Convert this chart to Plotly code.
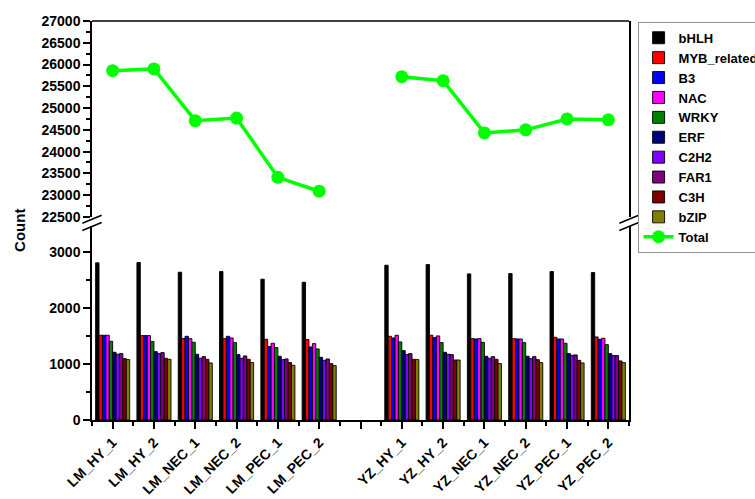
import plotly.graph_objects as go

# Samples on the x axis (slot 6 is left empty to separate the two sites)
samples = ["LM_HY_1", "LM_HY_2", "LM_NEC_1", "LM_NEC_2", "LM_PEC_1", "LM_PEC_2",
           "", "YZ_HY_1", "YZ_HY_2", "YZ_NEC_1", "YZ_NEC_2", "YZ_PEC_1", "YZ_PEC_2"]
sample_pos = [0, 1, 2, 3, 4, 5, 7, 8, 9, 10, 11, 12]

families = ["bHLH", "MYB_related", "B3", "NAC", "WRKY", "ERF", "C2H2", "FAR1", "C3H", "bZIP"]
family_colors = ["#000000", "#FF0000", "#0000FF", "#FF00FF", "#008000",
                 "#000080", "#8000FF", "#800080", "#800000", "#808000"]

# Counts per family, one value per sample (LM_HY_1 ... YZ_PEC_2)
bHLH        = [2804, 2810, 2637, 2649, 2512, 2458, 2762, 2774, 2607, 2613, 2649, 2631]
MYB_related = [1512, 1506, 1452, 1452, 1440, 1435, 1494, 1512, 1452, 1452, 1476, 1482]
B3          = [1512, 1506, 1494, 1494, 1310, 1304, 1464, 1470, 1446, 1446, 1446, 1440]
NAC         = [1512, 1506, 1452, 1464, 1369, 1363, 1512, 1500, 1452, 1446, 1446, 1458]
WRKY        = [1405, 1399, 1387, 1381, 1292, 1268, 1393, 1381, 1387, 1381, 1369, 1345]
ERF         = [1208, 1220, 1173, 1167, 1137, 1119, 1238, 1208, 1137, 1137, 1185, 1185]
C2H2        = [1173, 1185, 1101, 1101, 1077, 1065, 1167, 1173, 1101, 1095, 1155, 1149]
FAR1        = [1185, 1202, 1131, 1143, 1089, 1089, 1185, 1167, 1131, 1131, 1161, 1149]
C3H         = [1096, 1101, 1083, 1083, 1024, 1006, 1083, 1071, 1083, 1077, 1065, 1054]
bZIP        = [1078, 1083, 1018, 1024,  976,  970, 1078, 1071, 1006, 1024, 1018, 1024]

# Total number of TFs per sample
total = [25860, 25900, 24710, 24770, 23410, 23090,
         25720, 25630, 24430, 24500, 24750, 24730]

family_values = [bHLH, MYB_related, B3, NAC, WRKY, ERF, C2H2, FAR1, C3H, bZIP]

FONT = "Liberation Sans, Arial, sans-serif"

fig = go.Figure()

for name, color, vals in zip(families, family_colors, family_values):
    fig.add_trace(go.Bar(
        x=sample_pos, y=vals, name=name,
        marker=dict(color=color, line=dict(color="#000000", width=0.9)),
        xaxis="x", yaxis="y",
    ))

# Total line lives on the upper (broken) axis; gap between the two sites
tx = sample_pos[:6] + [None] + sample_pos[6:]
ty = total[:6] + [None] + total[6:]
fig.add_trace(go.Scatter(
    x=tx, y=ty, name="Total", mode="lines+markers",
    line=dict(color="#00FF00", width=3.5),
    marker=dict(color="#00FF00", size=13),
    connectgaps=False,
    xaxis="x", yaxis="y2",
))

tickfont = dict(family=FONT, size=14, color="#000000", weight="bold")

fig.update_layout(
    width=755, height=499,
    margin=dict(l=92, r=126, t=21, b=79, autoexpand=False),
    paper_bgcolor="#FFFFFF", plot_bgcolor="#FFFFFF",
    barmode="group", bargap=0.175, bargroupgap=0,
    showlegend=True,
    legend=dict(
        x=1.016, y=0.998, xanchor="left", yanchor="top",
        bgcolor="#FFFFFF", bordercolor="#909090", borderwidth=1,
        font=dict(family=FONT, size=13, color="#000000", weight="bold"),
        tracegroupgap=0, itemwidth=30,
    ),
    xaxis=dict(
        range=[-0.5, 12.5], tickmode="array",
        tickvals=list(range(13)), ticktext=samples, tickangle=-45,
        ticks="outside", ticklen=7, tickwidth=1.5, tickcolor="#000000",
        showline=True, linecolor="#000000", linewidth=1.5,
        showgrid=False, zeroline=False, tickfont=tickfont,
        minor=dict(tickvals=[i - 0.5 for i in range(14)], ticks="outside",
                   ticklen=4, tickwidth=1.5, tickcolor="#000000", showgrid=False),
        anchor="y",
    ),
    yaxis=dict(
        domain=[0, 0.486], range=[0, 3460],
        tickmode="linear", tick0=0, dtick=1000, tickformat="d",
        ticks="outside", ticklen=7, tickwidth=1.5, tickcolor="#000000",
        showline=True, mirror=True, linecolor="#000000", linewidth=1.5,
        showgrid=False, zeroline=False, tickfont=tickfont,
        minor=dict(dtick=500, tick0=0, ticks="outside", ticklen=4,
                   tickwidth=1.5, tickcolor="#000000", showgrid=False),
        anchor="x",
    ),
    yaxis2=dict(
        domain=[0.509, 1], range=[22500, 27000],
        tickmode="linear", tick0=22500, dtick=500, tickformat="d",
        ticks="outside", ticklen=7, tickwidth=1.5, tickcolor="#000000",
        showline=True, mirror=True, linecolor="#000000", linewidth=1.5,
        showgrid=False, zeroline=False, tickfont=tickfont,
        minor=dict(dtick=250, tick0=22500, ticks="outside", ticklen=4,
                   tickwidth=1.5, tickcolor="#000000", showgrid=False),
        anchor="x",
    ),
)

# Top edge of the frame
fig.add_shape(type="line", xref="paper", yref="paper", x0=0, x1=1, y0=1, y1=1,
              line=dict(color="#000000", width=1.5))

# Axis-break marks on both sides of the frame
for xc in (0, 1):
    for yc in (0.501, 0.483):
        fig.add_shape(type="line", xref="paper", yref="paper",
                      x0=xc - 0.018, x1=xc + 0.018, y0=yc - 0.008, y1=yc + 0.012,
                      line=dict(color="#000000", width=1.5))

fig.add_annotation(
    text="Count", textangle=-90, showarrow=False,
    xref="paper", yref="paper", x=-0.134, y=0.474,
    xanchor="center", yanchor="middle",
    font=dict(family=FONT, size=15, color="#000000", weight="bold"),
)

fig.write_html("out.html")
